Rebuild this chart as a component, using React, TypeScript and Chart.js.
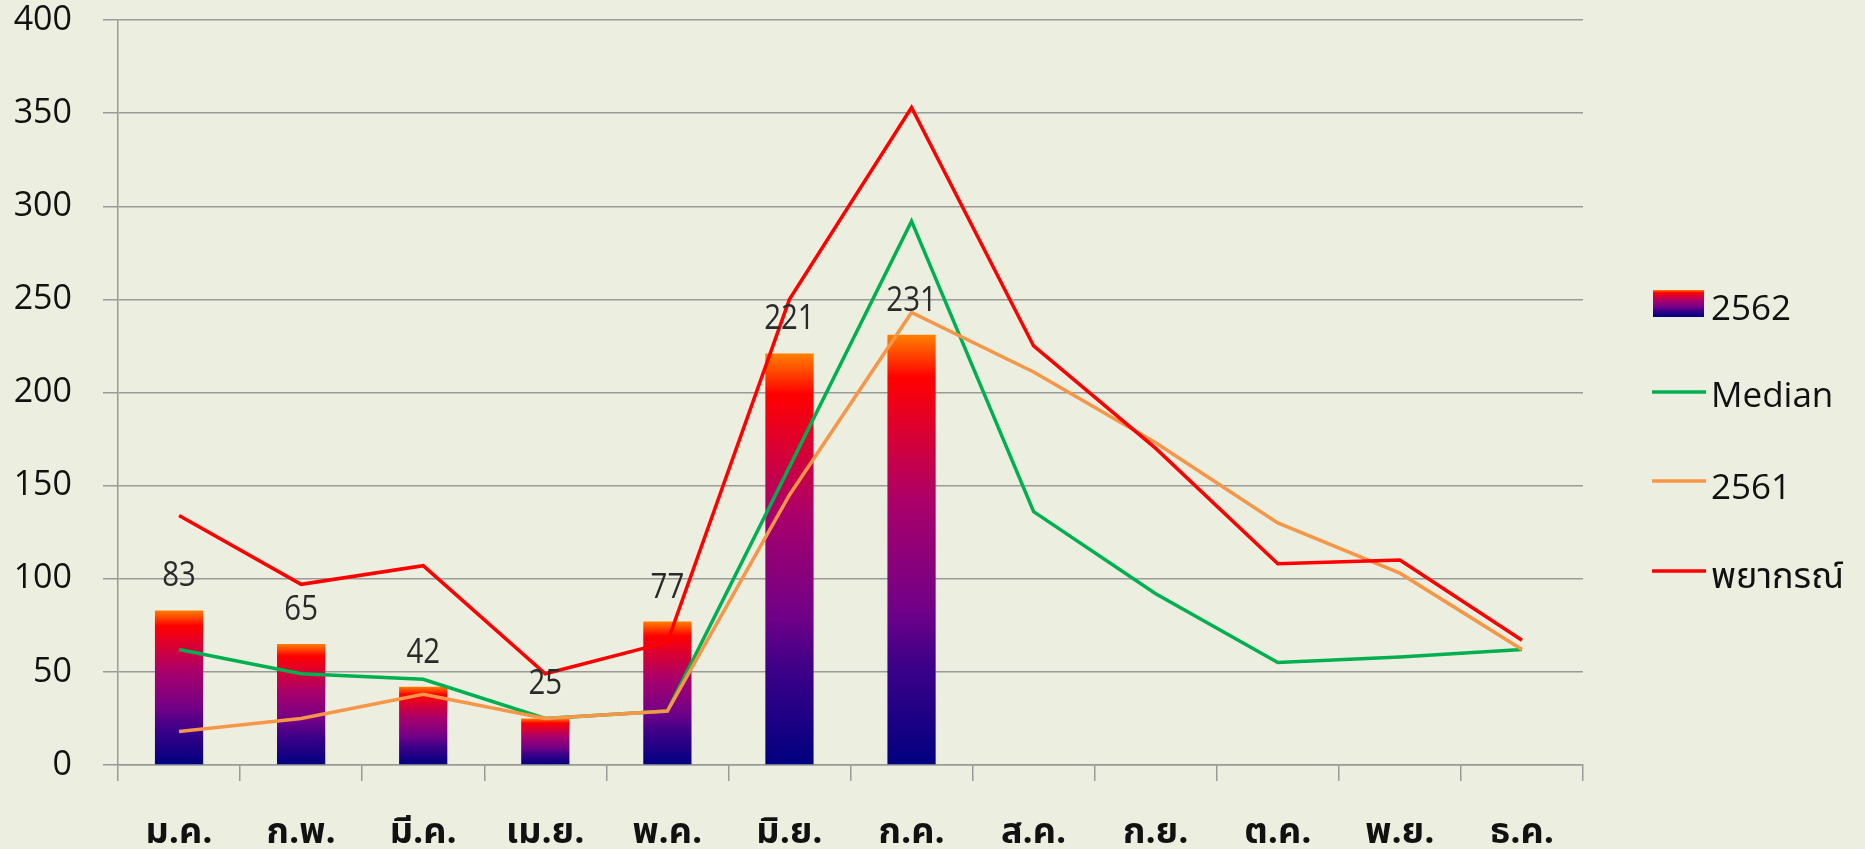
import React, { useEffect, useRef } from "react";
import { Chart, registerables } from "chart.js";

Chart.register(...registerables);

const categories = ["ม.ค.", "ก.พ.", "มี.ค.", "เม.ย.", "พ.ค.", "มิ.ย.", "ก.ค.", "ส.ค.", "ก.ย.", "ต.ค.", "พ.ย.", "ธ.ค."];
const values2562 = [83, 65, 42, 25, 77, 221, 231, null, null, null, null, null];
const medianValues = [62, 49, 46, 25, 29, 160, 292, 136, 92, 55, 58, 62];
const values2561 = [18, 25, 38, 25, 29, 145, 243, 211, 173, 130, 103, 62];
const forecastValues = [134, 97, 107, 49, 66, 250, 353, 225, 170, 108, 110, 67];
const yTicks = [0, 50, 100, 150, 200, 250, 300, 350, 400];

const legendLabels = ["2562", "Median", "2561", "พยากรณ์"];

const BG = "#ECEFDF";
const GRID = "#9a9a9a";
const THAI_FONT = '"Noto Sans Thai", "Noto Sans Thai UI", "Loma", "Garuda", "Tlwg Typo", "Noto Sans", "DejaVu Sans", sans-serif';
const NUM_FONT = '"Open Sans", "Noto Sans", "DejaVu Sans", sans-serif';

const barStops: [number, string][] = [
  [0, "#000080"],
  [0.23, "#3c0088"],
  [0.36, "#700088"],
  [0.61, "#aa006a"],
  [0.78, "#dc0030"],
  [0.9, "#ff0000"],
  [1, "#ff8000"],
];

function barGradient(ctx: CanvasRenderingContext2D, bottom: number, top: number) {
  const g = ctx.createLinearGradient(0, bottom, 0, top);
  barStops.forEach(([o, c]) => g.addColorStop(o, c));
  return g;
}

const dataLabelPlugin = {
  id: "dataLabels",
  afterDatasetsDraw(chart: any) {
    const meta = chart.getDatasetMeta(3);
    const ctx = chart.ctx;
    ctx.save();
    ctx.font = '35px "Open Sans", "Noto Sans", sans-serif';
    ctx.fillStyle = "#2a2a2a";
    ctx.textAlign = "center";
    ctx.textBaseline = "alphabetic";
    meta.data.forEach((el: any, i: number) => {
      const v = values2562[i];
      if (v == null) return;
      ctx.save();
      ctx.translate(el.x, el.y - 24);
      ctx.scale(0.84, 1);
      ctx.fillText(String(v), 0, 0);
      ctx.restore();
    });
    ctx.restore();
  },
};

const legendPlugin = {
  id: "customLegend",
  afterDraw(chart: any) {
    const ctx = chart.ctx;
    ctx.save();
    const baselines = [320, 407, 499, 588];
    const lineYs = [0, 392, 481, 571];
    const colors = ["", "#00B050", "#F79646", "#FF0000"];
    ctx.fillStyle = barGradient(ctx, 317, 290);
    ctx.fillRect(1653, 290, 51, 27);
    for (let i = 1; i < 4; i++) {
      ctx.strokeStyle = colors[i];
      ctx.lineWidth = 3.5;
      ctx.beginPath();
      ctx.moveTo(1652, lineYs[i]);
      ctx.lineTo(1706, lineYs[i]);
      ctx.stroke();
    }
    ctx.fillStyle = "#111111";
    ctx.textAlign = "left";
    ctx.textBaseline = "alphabetic";
    legendLabels.forEach((t, i) => {
      ctx.font = i === 3 ? "36px " + THAI_FONT : "35px " + NUM_FONT;
      ctx.fillText(t, 1711, baselines[i]);
    });
    ctx.restore();
  },
};

export default function App() {
  const ref = useRef<HTMLCanvasElement | null>(null);
  useEffect(() => {
    if (!ref.current) return;
    const chart = new Chart(ref.current, {
      type: "bar",
      data: {
        labels: categories,
        datasets: [
          {
            type: "line",
            label: legendLabels[3],
            data: forecastValues,
            borderColor: "#FF0000",
            backgroundColor: "#FF0000",
            borderWidth: 3.5,
            pointRadius: 0,
            tension: 0,
            order: 0,
          },
          {
            type: "line",
            label: legendLabels[2],
            data: values2561,
            borderColor: "#F79646",
            backgroundColor: "#F79646",
            borderWidth: 3.5,
            pointRadius: 0,
            tension: 0,
            order: 1,
          },
          {
            type: "line",
            label: legendLabels[1],
            data: medianValues,
            borderColor: "#00B050",
            backgroundColor: "#00B050",
            borderWidth: 3.5,
            pointRadius: 0,
            tension: 0,
            order: 2,
          },
          {
            type: "bar",
            label: legendLabels[0],
            data: values2562 as any,
            backgroundColor: (c: any) => {
              const chart = c.chart;
              const y = chart.scales && chart.scales.y;
              if (c.type !== "data" || !y || c.raw == null) return "#800080";
              const b = y.getPixelForValue(0);
              const t = y.getPixelForValue(c.raw);
              if (!Number.isFinite(b) || !Number.isFinite(t) || b === t) return "#800080";
              return barGradient(chart.ctx, b, t);
            },
            borderWidth: 0,
            barPercentage: 0.395,
            categoryPercentage: 1,
            order: 3,
          },
        ],
      },
      options: {
        animation: false,
        responsive: false,
        maintainAspectRatio: false,
        layout: { padding: { top: 20, right: 282, left: 0, bottom: 0 } },
        plugins: {
          legend: { display: false },
          tooltip: { enabled: false },
        },
        scales: {
          x: {
            offset: true,
            grid: {
              offset: true,
              drawOnChartArea: false,
              drawTicks: true,
              tickLength: 16,
              color: GRID,
              lineWidth: 1.5,
            },
            border: { display: true, color: GRID, width: 1.5 },
            ticks: {
              font: { family: THAI_FONT, size: 36, weight: "bold" },
              color: "#111111",
              padding: 33,
              maxRotation: 0,
              autoSkip: false,
            },
            afterFit(scale: any) {
              scale.height = 84;
              scale.paddingLeft = 0;
              scale.paddingRight = 0;
            },
          },
          y: {
            min: 0,
            max: 400,
            afterBuildTicks(scale: any) {
              scale.ticks = yTicks.map((v) => ({ value: v }));
            },
            grid: {
              color: GRID,
              lineWidth: 1.5,
              tickLength: 15,
            },
            border: { display: true, color: GRID, width: 1.5 },
            ticks: {
              font: { family: NUM_FONT, size: 34 },
              color: "#111111",
              padding: 31,
            },
            afterFit(scale: any) {
              scale.width = 118;
              scale.paddingTop = 0;
              scale.paddingBottom = 0;
            },
          },
        },
      },
      plugins: [dataLabelPlugin, legendPlugin],
    });
    return () => chart.destroy();
  }, []);
  return (
    <div style={{ position: "fixed", left: 0, top: 0, width: 1865, height: 849, background: BG }}>
      <canvas ref={ref} width={1865} height={849} style={{ display: "block", width: 1865, height: 849 }} />
    </div>
  );
}
